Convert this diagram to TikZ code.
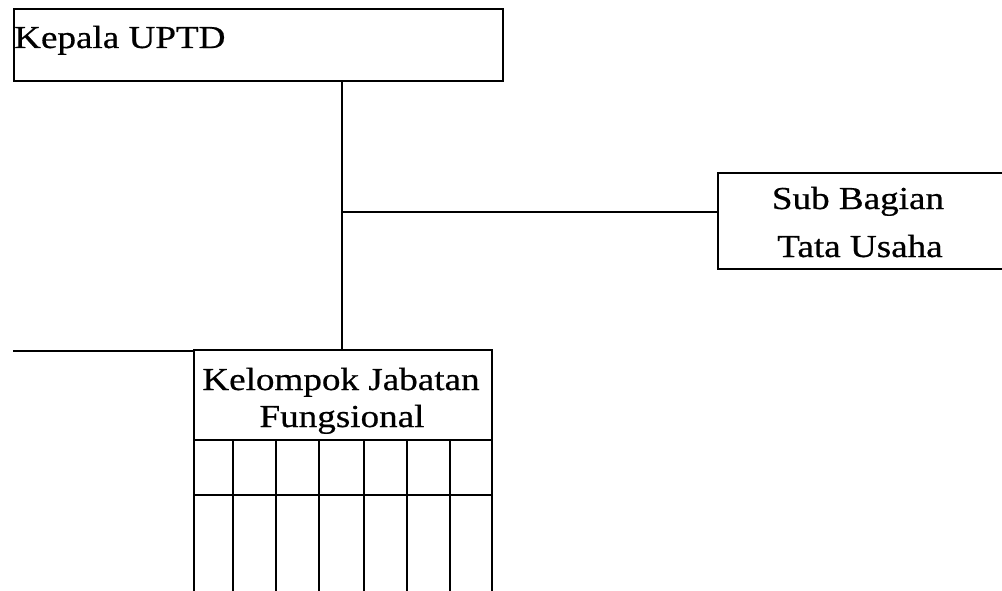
\documentclass[tikz,border=0pt]{standalone}
\usepackage{fontspec}
\setmainfont{Liberation Serif}[FakeStretch=1.16,FakeBold=0.6]
\begin{document}
\begin{tikzpicture}[x=1pt,y=-1pt,
  ln/.style={line width=2.4pt,black},
  box/.style={draw=black,line width=2.4pt,rectangle,inner sep=0pt,anchor=north west},
  txt/.style={inner sep=0pt,font=\fontsize{32}{38}\selectfont}]
\useasboundingbox (0,0) rectangle (1002,591);
\clip (0,0) rectangle (1002,591);
% boxes
\node[box,minimum width=489pt,minimum height=72pt] (kepala) at (13,8) {};
\node[txt,anchor=base west] (kepalaT) at (14,48) {Kepala UPTD};
\node[box,minimum width=340pt,minimum height=96pt] (sub) at (717,172) {};
\node[txt,anchor=base] (subA) at (858,209) {Sub Bagian};
\node[txt,anchor=base] (subB) at (860,257) {Tata Usaha};
\node[box,minimum width=298pt,minimum height=90pt] (kel) at (193,349) {};
\node[txt,anchor=base] (kelA) at (341,390) {Kelompok Jabatan};
\node[txt,anchor=base] (kelB) at (342,427) {Fungsional};
% grid below
\node[box,minimum width=298pt,minimum height=55pt] (row1) at (193,439) {};
\node[box,minimum width=298pt,minimum height=120pt] (row2) at (193,494) {};
\foreach \x/\n in {233/a,276/b,319/c,364/d,407/e,450/f}{
  \coordinate (t\n) at (\x,439);
  \coordinate (b\n) at (\x,620);
  \draw[ln] (t\n) -- (b\n);
}
% connectors
\coordinate (k) at (342,80);
\coordinate (j) at (342,212);
\draw[ln] (kepala.south -| k) -- (kel.north -| k);
\draw[ln] (j) -- (sub.west |- j);
\coordinate (lft) at (13,351);
\draw[ln] (lft) -- (kel.west |- lft);
\end{tikzpicture}
\end{document}
